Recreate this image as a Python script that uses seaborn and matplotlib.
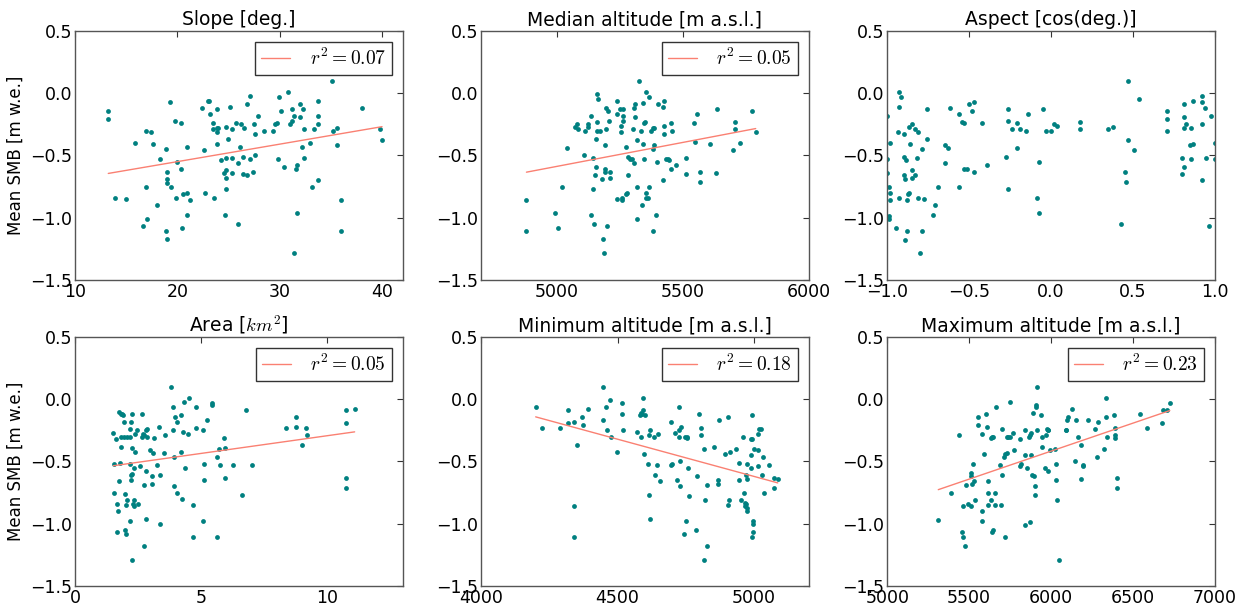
import numpy as np
import pandas as pd
import matplotlib
matplotlib.use("Agg")
import matplotlib.pyplot as plt
import seaborn as sns

# --- data (one list per axis, per panel) ---
slope_x = [13.25, 13.25, 13.9, 15.0, 15.9, 16.6, 16.9, 16.9, 17.0, 17.4, 17.6, 18.0, 18.3, 18.85, 18.9, 19.0,
           19.0, 19.0, 19.0, 19.3, 19.4, 19.8, 19.9, 20.0, 20.4, 20.4, 20.45, 20.6, 20.9, 20.9, 20.9, 21.2,
           22.4, 22.6, 22.7, 23.0, 23.1, 23.15, 23.5, 23.5, 23.6, 23.9, 23.9, 23.9, 23.9, 24.0, 24.3, 24.6,
           24.7, 24.75, 24.75, 24.8, 24.8, 24.8, 24.9, 25.1, 25.3, 25.3, 25.3, 25.7, 25.9, 25.9, 26.1, 26.2,
           26.4, 26.4, 26.5, 26.8, 26.8, 27.05, 27.1, 27.4, 27.5, 27.6, 27.6, 27.9, 28.5, 29.3, 29.5, 29.7,
           29.8, 29.9, 30.1, 30.4, 30.8, 31.0, 31.2, 31.25, 31.35, 31.35, 31.55, 31.7, 31.7, 32.0, 32.0, 32.2,
           32.3, 32.35, 32.35, 33.0, 33.2, 33.4, 33.75, 33.75, 33.75, 33.75, 35.1, 35.2, 35.6, 35.6, 36.0,
           36.0, 38.0, 39.8, 40.0]
slope_y = [-0.14, -0.21, -0.84, -0.85, -0.40, -1.07, -0.75, -0.30, -1.01, -0.31, -0.41, -0.90, -0.53, -0.45,
           -1.11, -0.63, -0.69, -0.72, -1.17, -0.07, -0.75, -0.22, -0.84, -0.55, -0.24, -0.61, -1.08, -0.81,
           -0.80, -0.43, -0.98, -0.86, -0.12, -0.46, -0.80, -0.06, -0.06, -0.17, -0.24, -0.29, -0.84, -0.13,
           -0.28, -0.31, -0.41, -0.28, -0.54, -0.64, -0.98, -0.62, -0.68, -0.77, -0.27, -0.52, -0.37, -0.11,
           -0.29, -0.52, -0.64, -0.24, -0.56, -1.05, -0.43, -0.25, -0.65, -0.51, -0.28, -0.09, -0.66, -0.53,
           -0.02, -0.63, -0.25, -0.33, -0.50, -0.18, -0.30, -0.30, -0.25, -0.24, -0.53, -0.03, -0.14, -0.59,
           0.01, -0.25, -0.22, -0.13, -0.18, -1.28, -0.61, -0.58, -0.96, -0.09, -0.19, -0.43, -0.13, -0.29,
           -0.52, -0.40, -0.75, -0.29, -0.06, -0.18, -0.25, -0.70, 0.10, -0.30, -0.28, -0.42, -0.86, -1.11,
           -0.12, -0.29, -0.38]

median_x = [4880, 4880, 4995, 5004, 5020, 5042, 5071, 5079, 5084, 5108, 5111, 5124, 5125, 5136, 5136, 5144,
            5145, 5147, 5152, 5157, 5157, 5160, 5160, 5164, 5160, 5170, 5180, 5182, 5186, 5190, 5191, 5191,
            5194, 5195, 5199, 5203, 5207, 5210, 5210, 5238, 5239, 5239, 5250, 5255, 5255, 5260, 5260, 5263,
            5263, 5263, 5275, 5277, 5280, 5282, 5282, 5290, 5298, 5302, 5305, 5307, 5310, 5310, 5317, 5317,
            5318, 5326, 5335, 5337, 5342, 5342, 5345, 5346, 5352, 5353, 5354, 5354, 5361, 5366, 5368, 5376,
            5382, 5382, 5383, 5388, 5388, 5396, 5400, 5403, 5421, 5424, 5425, 5425, 5425, 5432, 5440, 5445,
            5453, 5456, 5453, 5474, 5515, 5515, 5545, 5548, 5557, 5570, 5570, 5608, 5633, 5638, 5699, 5707,
            5707, 5728, 5774, 5790]
median_y = [-0.86, -1.11, -0.96, -1.08, -0.75, -0.44, -0.27, -0.25, -0.29, -0.50, -0.30, -0.27, -0.25, -0.18,
            -0.98, -0.77, -0.52, -1.05, -0.66, -0.59, -0.37, -0.23, -0.01, -0.05, -0.30, -0.30, -0.69, -1.17,
            -1.28, -0.61, -0.63, -0.42, -0.29, -0.12, -1.07, -0.14, -0.22, -0.68, -0.63, -0.85, -0.06, -0.17,
            -0.13, -0.26, -0.31, -0.84, -0.86, -0.13, -0.22, -0.18, -0.81, -0.43, -0.80, -0.51, -0.66, -0.53,
            -0.53, -0.29, -0.56, -0.12, -0.09, -0.19, -0.75, -1.01, -0.38, 0.10, -0.30, -0.90, -0.08, -0.41,
            -0.53, -0.24, -0.23, -0.84, -0.80, 0.01, -0.84, -0.03, -0.75, -0.30, -0.45, -0.28, -1.11, -0.42,
            -0.28, -0.98, -0.55, -0.09, -0.11, -0.70, -0.06, -0.26, -0.33, -0.53, -0.53, -0.54, -0.24, -0.30,
            -0.61, -0.58, -0.52, -0.65, -0.24, -0.39, -0.17, -0.63, -0.71, -0.41, -0.64, -0.13, -0.46, -0.23,
            -0.29, -0.40, -0.14, -0.31]

aspect_x = [-1.0, -1.0, -1.0, -0.99, -0.99, -0.99, -0.985, -0.98, -0.98, -0.945, -0.935, -0.93, -0.93, -0.93,
            -0.915, -0.90, -0.90, -0.90, -0.89, -0.89, -0.885, -0.88, -0.88, -0.87, -0.865, -0.865, -0.86,
            -0.85, -0.85, -0.85, -0.83, -0.83, -0.82, -0.81, -0.81, -0.80, -0.79, -0.785, -0.775, -0.755,
            -0.755, -0.69, -0.72, -0.71, -0.645, -0.645, -0.63, -0.615, -0.56, -0.56, -0.545, -0.53, -0.53,
            -0.515, -0.50, -0.485, -0.47, -0.47, -0.42, -0.39, -0.275, -0.26, -0.26, -0.26, -0.24, -0.21,
            -0.205, -0.19, -0.155, -0.14, -0.085, -0.07, -0.07, -0.05, -0.03, 0.00, 0.02, 0.035, 0.18, 0.18,
            0.35, 0.38, 0.425, 0.455, 0.457, 0.47, 0.47, 0.505, 0.535, 0.71, 0.71, 0.71, 0.80, 0.80, 0.81,
            0.815, 0.815, 0.815, 0.825, 0.85, 0.855, 0.855, 0.865, 0.865, 0.92, 0.925, 0.925, 0.925, 0.94,
            0.945, 0.965, 0.98, 1.0, 1.0]
aspect_y = [-0.18, -0.53, -0.64, -0.75, -0.99, -1.01, -0.80, -0.86, -0.40, -1.08, -0.31, 0.01, -0.11, -0.84,
            -0.03, -0.33, -0.51, -0.66, -0.69, -1.18, -0.54, -1.11, -0.86, -0.81, -0.80, -0.27, -0.41, -0.25,
            -0.62, -0.68, -0.66, -0.29, -0.52, -0.31, -0.84, -1.28, -1.11, -0.45, -0.85, -0.13, -0.37, -0.75,
            -0.98, -0.90, -0.56, -0.42, -0.44, -0.12, -0.17, -0.75, -0.23, -0.24, -0.61, -0.61, -0.09, -0.14,
            -0.07, -0.63, -0.24, -0.58, -0.51, -0.13, -0.22, -0.77, -0.29, -0.44, -0.24, -0.29, -0.30, -0.17,
            -0.84, -0.55, -0.96, -0.13, -0.30, -0.30, -0.25, -0.26, -0.23, -0.29, -0.29, -0.27, -1.05, -0.63,
            -0.71, 0.10, -0.38, -0.46, -0.05, -0.14, -0.21, -0.30, -0.52, -0.65, -0.09, -0.19, -0.28, -0.59,
            -0.25, -0.42, -0.28, -0.53, -0.06, -0.41, -0.02, -0.07, -0.25, -0.70, -0.12, -0.52, -1.07, -0.18,
            -0.40, -0.53]

area_x = [1.52, 1.54, 1.54, 1.63, 1.66, 1.66, 1.70, 1.75, 1.76, 1.79, 1.81, 1.81, 1.83, 1.87, 1.92, 1.95,
          1.96, 1.99, 1.99, 2.01, 2.03, 2.08, 2.08, 2.19, 2.20, 2.20, 2.19, 2.21, 2.21, 2.23, 2.25, 2.26,
          2.28, 2.28, 2.29, 2.33, 2.33, 2.36, 2.38, 2.38, 2.45, 2.49, 2.56, 2.64, 2.66, 2.69, 2.73, 2.73,
          2.75, 2.81, 2.82, 2.82, 2.85, 2.85, 2.97, 3.05, 3.05, 3.09, 3.13, 3.27, 3.32, 3.36, 3.38, 3.55,
          3.58, 3.80, 3.88, 3.89, 3.91, 3.92, 3.96, 4.04, 4.05, 4.21, 4.21, 4.23, 4.29, 4.32, 4.37, 4.49,
          4.52, 4.69, 4.70, 4.79, 4.82, 5.07, 5.09, 5.13, 5.13, 5.25, 5.42, 5.43, 5.64, 5.64, 5.72, 5.75,
          5.93, 5.95, 5.95, 6.28, 6.61, 6.79, 7.02, 8.36, 8.77, 8.77, 9.02, 9.18, 9.19, 10.75, 10.75, 10.75,
          10.75, 11.10]
area_y = [-0.27, -0.52, -0.75, -0.32, -0.84, -1.07, -0.90, -0.10, -0.66, -0.51, -0.38, -0.12, -0.30, -0.12,
          -0.13, -0.18, -0.30, -0.76, -1.05, -0.85, -1.08, -0.30, -0.81, -0.24, -0.30, -0.52, -0.98, -0.18,
          -0.61, -0.65, -0.39, -0.60, -0.12, -1.29, -0.84, -0.55, -0.86, -0.81, -0.42, -0.28, -0.25, -0.84,
          -0.54, -0.30, -0.12, -0.28, -0.69, -1.18, -0.29, -0.25, -0.58, -0.96, -0.24, -0.30, -0.41, -0.62,
          -0.68, -0.43, -0.31, -0.53, -0.22, -1.00, -0.61, -0.43, -0.29, 0.10, -0.06, -0.25, -0.70, -0.46,
          -0.14, -0.18, -0.75, -0.13, -0.42, -0.80, -0.26, -0.02, -0.55, -0.28, 0.01, -0.85, -1.11, -0.23,
          -0.06, -0.25, -0.98, -0.52, -0.65, -0.17, -0.03, -0.05, -0.46, -1.11, -0.40, -0.53, -0.31, -0.39,
          -0.63, -0.53, -0.77, -0.09, -0.53, -0.23, -0.14, -0.22, -0.37, -0.23, -0.29, -0.09, -0.19, -0.63,
          -0.71, -0.08]

min_x = [4200, 4222, 4289, 4317, 4317, 4339, 4340, 4340, 4350, 4371, 4372, 4391, 4446, 4448, 4457, 4462,
         4474, 4476, 4498, 4515, 4516, 4521, 4570, 4582, 4585, 4585, 4590, 4593, 4595, 4596, 4602, 4613,
         4615, 4616, 4618, 4620, 4635, 4637, 4646, 4650, 4656, 4696, 4696, 4701, 4711, 4716, 4724, 4726,
         4726, 4727, 4730, 4733, 4743, 4746, 4750, 4753, 4755, 4759, 4762, 4788, 4791, 4800, 4805, 4806,
         4817, 4818, 4821, 4826, 4828, 4852, 4867, 4868, 4873, 4893, 4904, 4906, 4910, 4912, 4934, 4945,
         4945, 4951, 4960, 4962, 4966, 4968, 4971, 4971, 4973, 4974, 4974, 4976, 4988, 4988, 4990, 4991,
         4991, 4994, 4996, 4996, 4998, 5000, 5013, 5015, 5016, 5017, 5027, 5028, 5034, 5035, 5054, 5074,
         5074, 5087]
min_y = [-0.06, -0.23, -0.23, -0.09, -0.19, -0.18, -0.86, -1.11, -0.37, -0.14, -0.21, -0.08, 0.10, -0.17,
         -0.06, -0.25, -0.01, -0.30, -0.42, -0.03, -0.12, -0.25, -0.26, -0.13, -0.11, -0.30, -0.12, 0.01,
         -0.09, -0.44, -0.13, -0.52, -0.77, -0.29, -0.25, -0.96, -0.30, -0.61, -0.53, -0.28, -0.66, -0.18,
         -0.53, -0.52, -0.27, -0.65, -0.25, -0.06, -0.30, -0.70, -0.50, -0.22, -1.08, -0.30, -0.98, -0.31,
         -0.30, -0.55, -0.78, -1.05, -0.62, -0.12, -0.23, -0.29, -1.29, -0.40, -0.81, -1.18, -0.69, -0.38,
         -0.65, -0.68, -0.17, -0.44, -0.14, -0.85, -0.81, -0.42, -0.40, -0.51, -0.65, -0.81, -0.30, -0.75,
         -0.83, -0.86, -0.61, -0.84, -0.87, -0.90, -0.52, -0.64, -0.55, -0.45, -0.32, -0.13, -1.11, -0.32,
         -0.98, -1.00, -1.07, -0.40, -0.41, -0.28, -0.54, -0.24, -0.24, -0.61, -0.46, -0.75, -0.53, -0.71,
         -0.63, -0.64]

max_x = [5312, 5391, 5438, 5454, 5462, 5464, 5477, 5479, 5493, 5513, 5513, 5513, 5517, 5523, 5532, 5536,
         5554, 5554, 5576, 5578, 5580, 5591, 5603, 5609, 5613, 5613, 5615, 5631, 5631, 5639, 5643, 5645,
         5647, 5658, 5660, 5664, 5690, 5694, 5700, 5700, 5717, 5715, 5721, 5729, 5733, 5739, 5747, 5751,
         5769, 5777, 5812, 5814, 5820, 5839, 5841, 5841, 5853, 5868, 5872, 5875, 5879, 5881, 5886, 5890,
         5896, 5904, 5904, 5910, 5910, 5912, 5912, 5941, 5943, 5947, 5961, 5967, 5975, 5981, 5981, 5985,
         5993, 6022, 6030, 6032, 6036, 6049, 6089, 6095, 6101, 6107, 6128, 6148, 6152, 6164, 6181, 6185,
         6195, 6195, 6229, 6269, 6283, 6289, 6326, 6334, 6338, 6342, 6383, 6391, 6391, 6393, 6403, 6403,
         6546, 6587, 6680, 6683, 6711, 6726]
max_y = [-0.97, -0.75, -0.29, -1.07, -1.11, -0.86, -1.18, -0.69, -0.84, -0.86, -0.62, -0.59, -0.68, -0.52,
         -0.66, -0.81, -0.14, -0.21, -0.28, -0.90, -0.98, -0.44, -0.12, -0.22, -0.66, -0.75, -0.85, -0.81,
         -0.31, -1.07, -0.30, -1.05, -0.30, -0.85, -0.75, -0.06, -0.53, -0.85, -0.24, -0.61, -1.11, -0.46,
         -0.44, -0.30, -0.43, -0.30, -0.30, -0.02, -0.27, -0.41, -0.32, -0.54, -0.52, -1.01, -0.25, -0.45,
         -0.55, -0.30, -0.99, -0.29, -0.27, -0.45, -0.61, -0.11, -0.62, -0.77, -0.70, -0.05, -0.06, 0.10,
         -0.25, -0.13, -0.30, -0.38, -0.55, -0.29, -0.24, -0.25, -0.58, -0.25, -0.41, -0.40, -0.52, -0.65,
         -0.81, -1.29, -0.25, -0.25, -0.17, -0.14, -0.08, -0.50, -0.17, -0.30, -0.37, -0.64, -0.53, -0.54,
         -0.17, -0.24, -0.46, -0.18, -0.40, 0.01, -0.14, -0.30, -0.13, -0.23, -0.29, -0.31, -0.63, -0.71,
         -0.12, -0.23, -0.19, -0.09, -0.09, -0.03]

titles = ["Slope [deg.]", "Median altitude [m a.s.l.]", "Aspect [cos(deg.)]",
          "Area [$km^2$]", "Minimum altitude [m a.s.l.]", "Maximum altitude [m a.s.l.]"]
r2_labels = ["0.07", "0.05", None, "0.05", "0.18", "0.23"]
x_limits = [(10, 42), (4700, 6000), (-1.0, 1.0), (0, 13), (4000, 5200), (5000, 7000)]
x_ticks = [[10, 20, 30, 40], [5000, 5500, 6000], [-1.0, -0.5, 0.0, 0.5, 1.0],
           [0, 5, 10], [4000, 4500, 5000], [5000, 5500, 6000, 6500, 7000]]
y_ticks = [-1.5, -1.0, -0.5, 0.0, 0.5]

panels = [(slope_x, slope_y), (median_x, median_y), (aspect_x, aspect_y),
          (area_x, area_y), (min_x, min_y), (max_x, max_y)]

sns.set_style("white")
plt.rcParams["font.family"] = ["DejaVu Sans"]
plt.rcParams["mathtext.fontset"] = "cm"
plt.rcParams["xtick.direction"] = "in"
plt.rcParams["ytick.direction"] = "in"
plt.rcParams["xtick.top"] = True
plt.rcParams["ytick.right"] = True
for key in ["text.color", "axes.labelcolor", "xtick.labelcolor", "ytick.labelcolor"]:
    plt.rcParams[key] = "black"

fig, axes = plt.subplots(2, 3, figsize=(12.42, 6.06), dpi=100)
fig.subplots_adjust(left=0.0604, right=0.978, top=0.949, bottom=0.033, wspace=0.24, hspace=0.229)

for i, ax in enumerate(axes.flat):
    x, y = panels[i]
    df = pd.DataFrame({"x": x, "y": y})
    if r2_labels[i] is not None:
        sns.regplot(data=df, x="x", y="y", ax=ax, ci=None, truncate=True,
                    scatter_kws={"s": 12, "color": "#008080", "linewidths": 0, "alpha": 1},
                    line_kws={"color": "salmon", "linewidth": 1.0,
                              "label": r"$r^2 = %s$" % r2_labels[i]})
        leg = ax.legend(loc="upper right", fontsize=14, fancybox=False, framealpha=1,
                        handlelength=1.5, handletextpad=1.0, borderpad=0.3, borderaxespad=0.55)
        leg.get_frame().set_edgecolor("#333333")
        leg.get_frame().set_linewidth(1.0)
    else:
        sns.scatterplot(data=df, x="x", y="y", ax=ax, s=12, color="#008080", linewidth=0)

    ax.set_xlim(*x_limits[i])
    ax.set_xticks(x_ticks[i])
    ax.set_ylim(-1.5, 0.5)
    ax.set_yticks(y_ticks)
    ax.set_title(titles[i], fontsize=13.5, pad=4)
    ax.set_xlabel("")
    ax.set_ylabel("Mean SMB [m w.e.]" if i % 3 == 0 else "", fontsize=12)
    ax.tick_params(labelsize=12.5, length=4, width=0.8, color="#333333", pad=2)
    for sp in ax.spines.values():
        sp.set_edgecolor("#555555")
        sp.set_linewidth(1.0)

fig.savefig("out.png", dpi=100)
